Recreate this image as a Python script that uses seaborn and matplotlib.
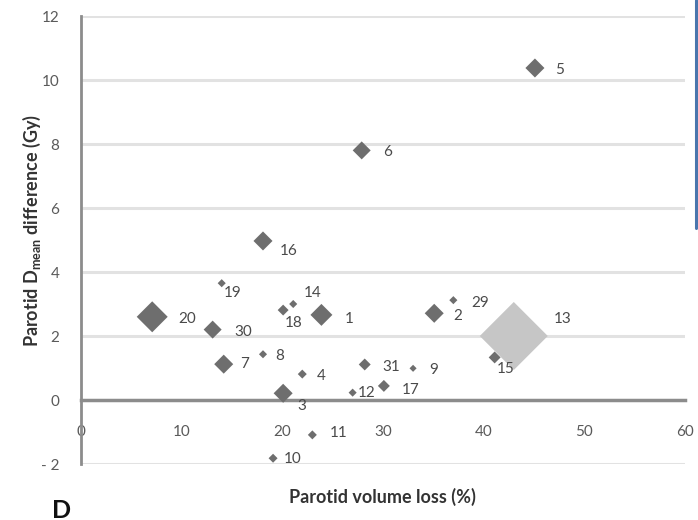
import matplotlib
matplotlib.use("Agg")
import matplotlib.pyplot as plt
from matplotlib.lines import Line2D
from matplotlib.ticker import MultipleLocator, FixedLocator
import seaborn as sns
import pandas as pd

# ---- data ----
patients = ["13", "5", "6", "16", "19", "20", "30", "7", "8", "18", "14", "1", "3",
            "4", "11", "10", "12", "31", "9", "17", "2", "29", "15"]
volume_loss = [43.0, 45.1, 27.9, 18.1, 14.0, 7.1, 13.1, 14.2, 18.1, 20.1, 21.1, 23.9, 20.1,
               22.0, 23.0, 19.1, 27.0, 28.2, 33.0, 30.1, 35.1, 37.0, 41.1]
dmean_diff = [2.0, 10.375, 7.8, 4.97, 3.65, 2.6, 2.2, 1.12, 1.43, 2.81, 3.0, 2.66, 0.21,
              0.81, -1.09, -1.82, 0.23, 1.11, 0.99, 0.44, 2.71, 3.12, 1.33]
bubble = [120.0, 9.4, 8.4, 9.4, 1.7, 24.9, 8.4, 9.4, 1.7, 3.1, 1.7, 12.5, 9.4,
          2.1, 2.1, 2.1, 1.7, 3.7, 1.3, 3.7, 9.4, 1.7, 3.7]
group = ["highlight"] + ["normal"] * 22

x_ticks = [0, 10, 20, 30, 40, 50, 60]
y_ticks = [-2, 0, 2, 4, 6, 8, 10, 12]
y_tick_labels = ["- 2", "0", "2", "4", "6", "8", "10", "12"]

# label offsets (pixels, right/down) for readability
label_offsets = {
    "13": (49, -17), "5": (25, 2), "6": (26, 2), "16": (26, 10), "19": (11, 10),
    "20": (35, 2), "30": (31, 2), "7": (21, 0), "8": (17, 2), "18": (11, 13),
    "14": (19, -11), "1": (28, 4), "3": (19, 13), "4": (19, 2), "11": (26, -2),
    "10": (20, 1), "12": (14, 0), "31": (27, 3), "9": (21, 2), "17": (27, 4),
    "2": (24, 3), "29": (27, 3), "15": (11, 12),
}

df = pd.DataFrame({"id": patients, "x": volume_loss, "y": dmean_diff,
                   "b": bubble, "g": group})

sns.set_style("white")
plt.rcParams["font.family"] = ["Lato", "DejaVu Sans"]
plt.rcParams["mathtext.fontset"] = "custom"
plt.rcParams["mathtext.rm"] = "Lato"
plt.rcParams["mathtext.bf"] = "Lato:bold"
plt.rcParams["mathtext.default"] = "bf"

DPI = 100
fig = plt.figure(figsize=(6.98, 5.20), dpi=DPI)
ax = fig.add_axes([80.7 / 698, (520 - 464) / 520, 604.3 / 698, 448 / 520])

axis_col = "#8c8c8c"
ax.set_xlim(0, 60)
ax.set_ylim(-2, 12)
ax.yaxis.set_major_locator(FixedLocator(y_ticks))
ax.yaxis.set_minor_locator(MultipleLocator(1))
ax.xaxis.set_major_locator(FixedLocator(x_ticks))
ax.xaxis.set_minor_locator(MultipleLocator(5))
ax.grid(axis="y", which="major", color="#e2e2e2", lw=2.2, zorder=0)
ax.set_axisbelow(True)

bmin, bmax = min(bubble), max(bubble)
sns.scatterplot(data=df, x="x", y="y", size="b", sizes=(bmin * 10, bmax * 10),
                size_norm=(bmin, bmax), hue="g",
                palette={"highlight": "#c6c6c6", "normal": "#6e6e6e"},
                marker="D", linewidth=0, legend=False, ax=ax, zorder=3, clip_on=False)

for pid, xv, yv in zip(patients, volume_loss, dmean_diff):
    dx, dy = label_offsets[pid]
    ax.annotate(pid, (xv, yv), xytext=(dx * 72 / DPI, -dy * 72 / DPI),
                textcoords="offset points", ha="center", va="center",
                fontsize=11, color="#4a4a4a", zorder=4)

for s in ["top", "right"]:
    ax.spines[s].set_visible(False)
ax.spines["left"].set_color(axis_col)
ax.spines["left"].set_linewidth(2)
ax.spines["bottom"].set_position(("data", 0))
ax.spines["bottom"].set_color(axis_col)
ax.spines["bottom"].set_linewidth(2.5)

ax.tick_params(axis="x", which="major", direction="inout", length=12, width=2,
               color=axis_col, labelsize=11, labelcolor="#5a5a5a", pad=12)
ax.tick_params(axis="x", which="minor", direction="inout", length=8, width=2,
               color=axis_col)
ax.tick_params(axis="y", which="major", direction="inout", length=15, width=2,
               color=axis_col, labelsize=11, labelcolor="#5a5a5a", pad=8)
ax.tick_params(axis="y", which="minor", direction="inout", length=10, width=2,
               color=axis_col)
ax.set_yticklabels(y_tick_labels)

ax.set_xlabel("Parotid volume loss (%)", fontsize=13, fontweight="bold", color="#333333")
ax.xaxis.set_label_coords(0.5, -0.054)
ax.set_ylabel(r"Parotid D$_{mean}$ difference (Gy)", fontsize=13,
              fontweight="bold", color="#333333")
ax.yaxis.set_label_coords(-0.062, 0.522)

fig.text(52 / 698, 1 - 510 / 520, "D", fontsize=18, fontweight="bold",
         color="#111111", va="center", ha="left")
fig.add_artist(Line2D([696 / 698, 696 / 698], [1.0, 1 - 228 / 520],
                      transform=fig.transFigure, color="#4a76ad", lw=2.2))

fig.savefig("out.png", dpi=DPI)
